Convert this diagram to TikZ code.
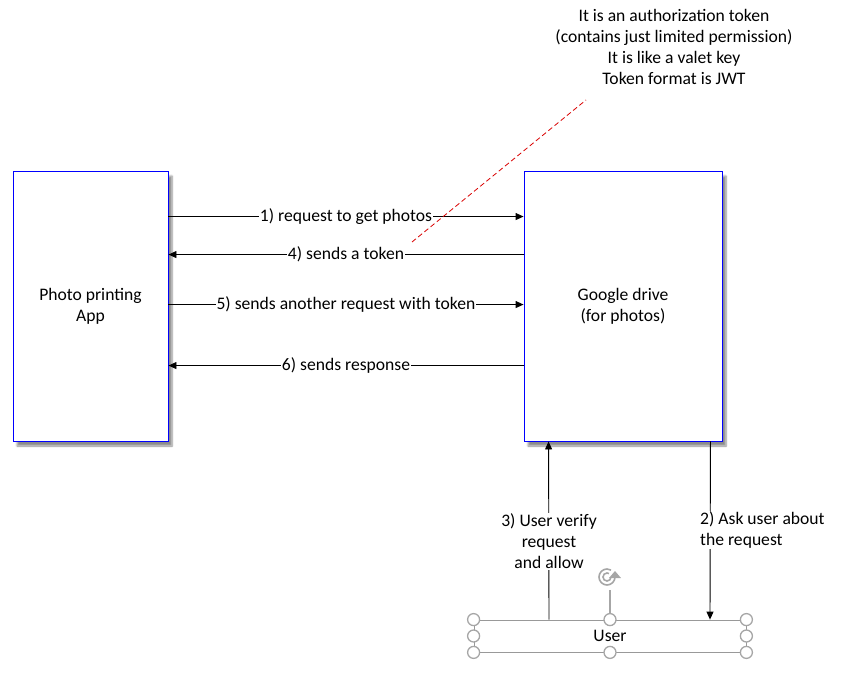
\documentclass[tikz,border=0pt]{standalone}
\usepackage{fontspec}
\setmainfont{Carlito}
\usetikzlibrary{arrows.meta,shadows.blur,calc}
\begin{document}
\begin{tikzpicture}[x=1pt,y=-1pt,
  font=\fontsize{17.6pt}{21pt}\selectfont,
  box/.style={draw=blue, line width=0.9pt, fill=white, align=center,
    blur shadow={shadow xshift=4pt, shadow yshift=-5pt, shadow blur steps=6, shadow opacity=45}},
  arr/.style={line width=0.9pt, -{Triangle[length=8pt,width=7pt]}},
  lbl/.style={fill=white, inner sep=1pt},
  handle/.style={circle, draw=gray!70, line width=1.3pt, fill=white, minimum size=12pt, inner sep=0pt},
]
\useasboundingbox (0,0) rectangle (844,675);
\node[box, minimum width=155pt, minimum height=270pt] (app) at (90.5,306) {Photo printing\\App};
\node[box, minimum width=198pt, minimum height=270pt] (gd) at (623,306) {Google drive\\(for photos)};
\node[draw=gray!80, line width=0.8pt, minimum width=272pt, minimum height=32pt] (user) at (610,636) {User};

\draw[arr] ([yshift=-46pt]app.north east) -- ([yshift=-46pt]gd.north west) node[midway, lbl] {1) request to get photos};
\draw[arr] ([yshift=-84pt]gd.north west) -- ([yshift=-84pt]app.north east) node[midway, lbl] {4) sends a token};
\draw[arr] ([yshift=-134pt]app.north east) -- ([yshift=-134pt]gd.north west) node[midway, lbl] {5) sends another request with token};
\draw[arr] ([yshift=-195pt]gd.north west) -- ([yshift=-195pt]app.north east) node[midway, lbl] {6) sends response};

\draw[arr] ([xshift=-61pt]user.north) -- ([xshift=25pt]gd.south west);
\draw[arr] ([xshift=-12pt]gd.south east) -- ([xshift=100pt]user.north);
\node[lbl, align=center] (l3) at (549,541) {3) User verify\\request\\and allow};
\node[lbl, align=left, anchor=west] (l2) at (699,530) {2) Ask user about\\the request};

\coordinate (d1) at (412,242);
\coordinate (d2) at (586,100);
\draw[red!85!black, line width=0.8pt, dash pattern=on 5pt off 3pt] (d1) -- (d2);
\node[align=center] (note) at (674,47) {It is an authorization token\\(contains just limited permission)\\It is like a valet key\\Token format is JWT};

% selection handles
\coordinate (rot) at (607,577);
\draw[gray!70, line width=1.3pt] (user.north) -- ($(user.north)+(0,-30)$);
\draw[gray!70, line width=1.6pt] (rot) ++(8pt,0) arc[start angle=0, end angle=-300, radius=8pt];
\draw[gray!70, line width=1.6pt] (rot) ++(4pt,0) arc[start angle=0, end angle=-300, radius=4pt];
\fill[gray!70] (rot) ++(2pt,-1pt) -- ++(12pt,0) -- ++(-6pt,7pt) -- cycle;
\foreach \n/\p in {a/north west,b/north,c/north east,d/west,e/east,f/south west,g/south,h/south east}
  \node[handle] (h\n) at (user.\p) {};
\end{tikzpicture}
\end{document}
